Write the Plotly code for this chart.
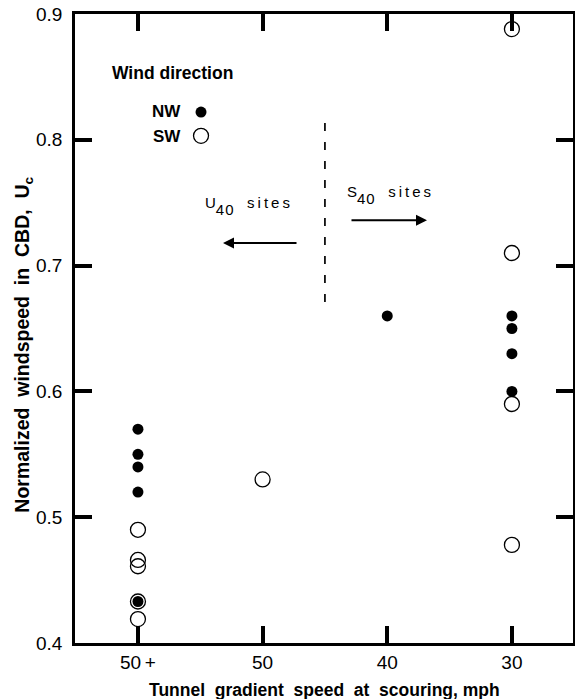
import plotly.graph_objects as go

# ---- data ----
categories = ["50+", "50", "40", "30"]
tick_labels = ["50\u2009+", "50", "40", "30"]

nw_speed = ["50+", "50+", "50+", "50+", "50+", "40", "30", "30", "30", "30"]
nw_value = [0.57, 0.55, 0.54, 0.52, 0.433, 0.66, 0.66, 0.65, 0.63, 0.60]

sw_speed = ["50+", "50+", "50+", "50+", "50+", "50", "30", "30", "30", "30"]
sw_value = [0.49, 0.466, 0.461, 0.433, 0.419, 0.53, 0.888, 0.71, 0.59, 0.478]

y_ticks = [0.4, 0.5, 0.6, 0.7, 0.8, 0.9]

FONT = "Liberation Sans, Arial, Helvetica, sans-serif"
NB = "\u00a0"

W, H = 575, 699
ML, MR, MT, MB = 75, 2, 14, 56
TL = 17  # tick length in px

fig = go.Figure()
fig.add_trace(go.Scatter(
    x=sw_speed, y=sw_value, mode="markers", name="", legendrank=2,
    marker=dict(symbol="circle-open", size=15, color="black", line=dict(width=1.3, color="black")),
))
fig.add_trace(go.Scatter(
    x=nw_speed, y=nw_value, mode="markers", name="", legendrank=1,
    marker=dict(symbol="circle", size=11, color="black"),
))

# divider line between U40 and S40 sites
fig.add_shape(type="line", x0=1.5, x1=1.5, y0=0.671, y1=0.816, xref="x", yref="y",
              line=dict(color="black", width=1.7, dash="8px,11px"))

# arrows
fig.add_annotation(x=0.682, y=0.718, ax=1.284, ay=0.718, xref="x", yref="y", axref="x", ayref="y",
                   text="", showarrow=True, arrowhead=2, arrowsize=1.1, arrowwidth=2, arrowcolor="black")
fig.add_annotation(x=2.319, y=0.736, ax=1.701, ay=0.736, xref="x", yref="y", axref="x", ayref="y",
                   text="", showarrow=True, arrowhead=2, arrowsize=1.1, arrowwidth=2, arrowcolor="black")

SUB = "<sub><span style='font-size:15px;letter-spacing:1px;baseline-shift:-4px'>40</span></sub>"
SITES = "<span style='letter-spacing:3px'>sites</span>"
fig.add_annotation(x=0.522, y=0.747, xref="x", yref="y", xanchor="left", yanchor="middle",
                   text="U" + SUB + NB + NB + NB + SITES, showarrow=False,
                   font=dict(size=15, family=FONT, color="black"))
fig.add_annotation(x=1.661, y=0.756, xref="x", yref="y", xanchor="left", yanchor="middle",
                   text="S" + SUB + NB + NB + NB + SITES, showarrow=False,
                   font=dict(size=15, family=FONT, color="black"))

# legend labels
fig.add_annotation(x=0.0703, y=0.906, xref="paper", yref="paper", xanchor="left", yanchor="middle",
                   text="<b>Wind direction</b>", showarrow=False, font=dict(size=17.5, family=FONT, color="black"))
fig.add_annotation(x=0.2169, y=0.8442, xref="paper", yref="paper", xanchor="right", yanchor="middle",
                   text="<b>NW</b>", showarrow=False, font=dict(size=17, family=FONT, color="black"))
fig.add_annotation(x=0.2169, y=0.806, xref="paper", yref="paper", xanchor="right", yanchor="middle",
                   text="<b>SW</b>", showarrow=False, font=dict(size=17, family=FONT, color="black"))

# axis titles
fig.add_annotation(x=0.5, y=-0.0747, xref="paper", yref="paper", xanchor="center", yanchor="middle",
                   text="<b>Tunnel" + NB + " gradient" + NB + " speed" + NB + " at" + NB + " scouring, mph</b>",
                   showarrow=False, font=dict(size=17.5, family=FONT, color="black"))
fig.add_annotation(x=-0.103, y=0.4738, xref="paper", yref="paper", xanchor="center", yanchor="middle",
                   textangle=-90,
                   text="<b>Normalized" + NB + " windspeed" + NB + " in" + NB + " CBD," + NB + " U<sub>c</sub></b>",
                   showarrow=False, font=dict(size=19.5, family=FONT, color="black"))

axis_common = dict(
    showline=True, linewidth=2.6, linecolor="black", mirror="ticks",
    ticks="inside", ticklen=TL, tickwidth=4, tickcolor="black",
    showgrid=False, zeroline=False, automargin=False,
    tickfont=dict(size=19, family=FONT, color="black"),
)

fig.update_layout(
    width=W, height=H,
    margin=dict(l=ML, r=MR, t=MT, b=MB),
    paper_bgcolor="white", plot_bgcolor="white",
    font=dict(family=FONT, color="black", size=16),
    showlegend=True,
    legend=dict(x=0.2129, y=0.871, xanchor="left", yanchor="top", bgcolor="rgba(0,0,0,0)",
                font=dict(size=16), itemwidth=30, tracegroupgap=0),
    xaxis=dict(
        type="category", categoryorder="array", categoryarray=categories,
        tickvals=categories, ticktext=tick_labels,
        range=[-0.505, 3.49], ticklabelstandoff=0,
        **axis_common,
    ),
    yaxis=dict(
        range=[0.4, 0.9], tickvals=y_ticks, tickformat=".1f",
        ticklabelstandoff=6,
        **axis_common,
    ),
)

fig.write_html("out.html", config={"displayModeBar": False},
               post_script="document.body.style.margin='0';document.body.style.padding='0';")
